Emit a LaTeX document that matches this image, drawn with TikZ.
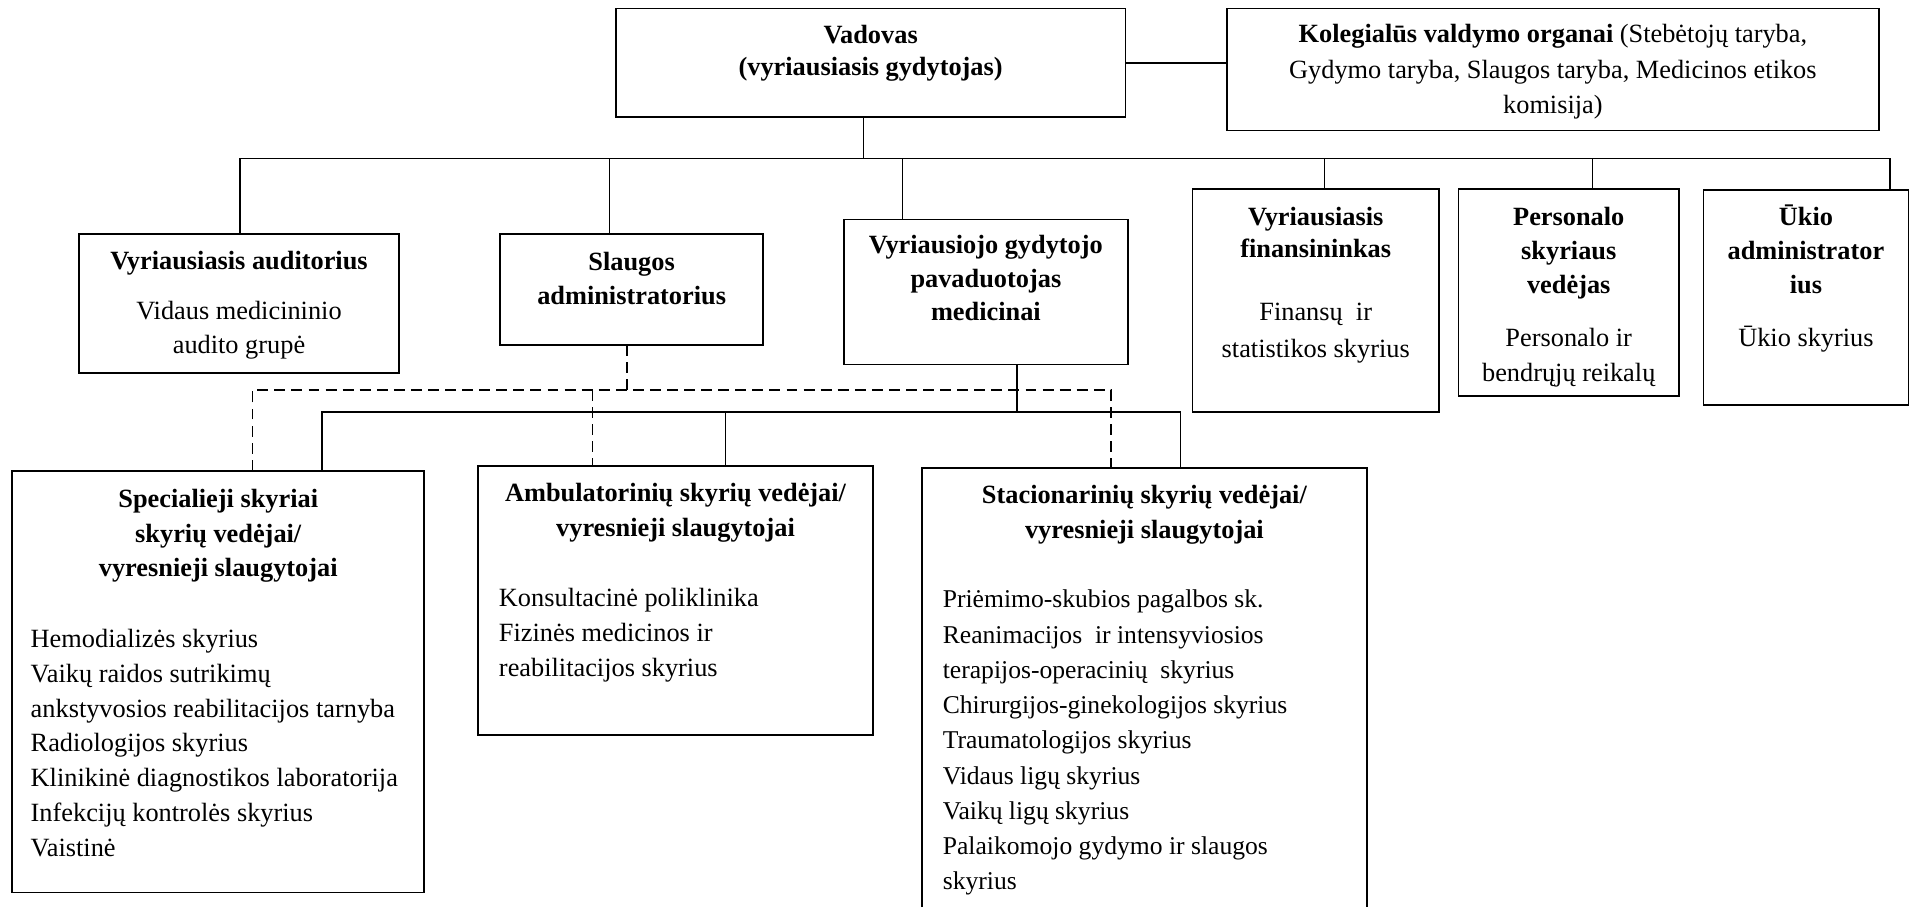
\documentclass[tikz,border=0pt]{standalone}
\usepackage{fontspec}
\setmainfont{Liberation Serif}
\usetikzlibrary{calc}
\newcommand{\fsz}{21.6pt}
\newcommand{\cbl}[3][28]{\begin{minipage}[t]{#2}\centering\fontsize{\fsz}{#1pt}\selectfont #3\end{minipage}}
\newcommand{\lbl}[3][28]{\begin{minipage}[t]{#2}\raggedright\fontsize{\fsz}{#1pt}\selectfont #3\end{minipage}}
\begin{document}
\begin{tikzpicture}[x=1pt,y=-1pt,
  box/.style={draw, line width=1.4pt, anchor=north west, inner sep=0pt, outer sep=0pt},
  openbox/.style={anchor=north west, inner sep=0pt, outer sep=0pt},
  ln/.style={line width=1.2pt},
  dl/.style={line width=1.2pt, dash pattern=on 9pt off 5pt},
  txt/.style={inner sep=0pt, anchor=base},
  txl/.style={inner sep=0pt, anchor=base west}]
\useasboundingbox (0,0) rectangle (1568,744);

% boxes
\node[box, minimum width=418pt, minimum height=89pt] (vad) at (505,7) {};
\node[box, minimum width=535pt, minimum height=100pt] (kol) at (1006,7) {};
\node[box, minimum width=262pt, minimum height=114pt] (aud) at (65,192) {};
\node[box, minimum width=216pt, minimum height=91pt] (sla) at (410,192) {};
\node[box, minimum width=233pt, minimum height=119pt] (vgp) at (692,180) {};
\node[box, minimum width=202pt, minimum height=183pt] (fin) at (978,155) {};
\node[box, minimum width=181pt, minimum height=170pt] (per) at (1196,155) {};
\node[box, minimum width=168pt, minimum height=176pt] (uk) at (1397,156) {};
\node[box, minimum width=338pt, minimum height=346pt] (spec) at (10,386) {};
\node[box, minimum width=324pt, minimum height=221pt] (amb) at (392,382) {};
\node[openbox, minimum width=365pt, minimum height=360pt] (sta) at (756,384) {};
\draw[line width=1.4pt] (sta.south west) -- (sta.north west) -- (sta.north east) -- (sta.south east);

% texts
\node[txt] (vadt) at (714,36) {\cbl[26]{400pt}{\bfseries Vadovas\\(vyriausiasis gydytojas)}};
\node[txt] (kolt) at (1273.5,35) {\cbl[29]{530pt}{\textbf{Kolegialūs valdymo organai} (Stebėtojų taryba,\\Gydymo taryba, Slaugos taryba, Medicinos etikos\\komisija)}};

\node[txt] (audh) at (196,221) {\cbl{258pt}{\bfseries Vyriausiasis auditorius}};
\node[txt] (audb) at (196,262) {\cbl{258pt}{Vidaus medicininio\\audito grupė}};

\node[txt] (slah) at (518,222) {\cbl{212pt}{\bfseries Slaugos\\administratorius}};

\node[txt] (vgph) at (808.5,208) {\cbl[27.5]{230pt}{\bfseries Vyriausiojo gydytojo\\pavaduotojas\\medicinai}};

\node[txt] (finh) at (1079,185) {\cbl[26]{198pt}{\bfseries Vyriausiasis\\finansininkas}};
\node[txt] (finb) at (1079,263) {\cbl[30]{198pt}{Finansų\ \ ir\\statistikos skyrius}};

\node[txt] (perh) at (1286.5,185) {\cbl[28]{178pt}{\bfseries Personalo\\skyriaus\\vedėjas}};
\node[txt] (perb) at (1286.5,284) {\cbl[29]{178pt}{Personalo ir\\bendrųjų reikalų}};

\node[txt] (ukh) at (1481,185) {\cbl[28]{165pt}{\bfseries Ūkio\\administrator\\ius}};
\node[txt] (ukb) at (1481,284) {\cbl{165pt}{Ūkio skyrius}};

\node[txt] (spech) at (179,416) {\cbl[28.5]{334pt}{\bfseries Specialieji skyriai\\skyrių vedėjai/\\vyresnieji slaugytojai}};
\node[txl] (specb) at (25,531) {\lbl[28.5]{322pt}{Hemodializės skyrius\\Vaikų raidos sutrikimų\\ankstyvosios reabilitacijos tarnyba\\Radiologijos skyrius\\Klinikinė diagnostikos laboratorija\\Infekcijų kontrolės skyrius\\Vaistinė}};

\node[txt] (ambh) at (554,411.5) {\cbl[28.5]{320pt}{\bfseries Ambulatorinių skyrių vedėjai/\\vyresnieji slaugytojai}};
\node[txl] (ambb) at (409,497.5) {\lbl[28.5]{300pt}{Konsultacinė poliklinika\\Fizinės medicinos ir\\reabilitacijos skyrius}};

\node[txt] (stah) at (938.5,413) {\cbl[28.5]{360pt}{\bfseries Stacionarinių skyrių vedėjai/\\vyresnieji slaugytojai}};
\node[txl] (stab) at (773,498.6) {\renewcommand{\fsz}{21pt}\lbl[28.9]{345pt}{Priėmimo-skubios pagalbos sk.\\Reanimacijos\ \ ir intensyviosios\\terapijos-operacinių\ \ skyrius\\Chirurgijos-ginekologijos skyrius\\Traumatologijos skyrius\\Vidaus ligų skyrius\\Vaikų ligų skyrius\\Palaikomojo gydymo ir slaugos\\skyrius}};

% connectors top
\draw[ln] (vad.east) -- (kol.west |- vad.east);
\coordinate (bus) at (708,130);
\coordinate (xa) at (197,130);
\coordinate (xs) at (500,130);
\coordinate (xv) at (740,130);
\coordinate (xf) at (1086,130);
\coordinate (xp) at (1306,130);
\coordinate (xu) at (1550,130);
\draw[ln] (vad.south -| bus) -- (bus);
\draw[ln] (xa |- aud.north) -- (xa) -- (xu) -- (xu |- uk.north);
\draw[ln] (xs) -- (xs |- sla.north);
\draw[ln] (xv) -- (xv |- vgp.north);
\draw[ln] (xf) -- (xf |- fin.north);
\draw[ln] (xp) -- (xp |- per.north);

% dashed from Slaugos administratorius
\coordinate (d0) at (514,320);
\coordinate (dL) at (207,320);
\coordinate (dM) at (486,320);
\coordinate (dR) at (911,320);
\draw[dl] (d0 |- sla.south) -- (d0);
\draw[dl] (dL |- spec.north) -- (dL) -- (dR) -- (dR |- sta.north);
\draw[dl] (dM) -- (dM |- amb.north);

% solid from pavaduotojas
\coordinate (s0) at (834,338);
\coordinate (sL) at (264,338);
\coordinate (sM) at (595,338);
\coordinate (sR) at (968,338);
\draw[ln] (s0 |- vgp.south) -- (s0);
\draw[ln] (sL |- spec.north) -- (sL) -- (sR) -- (sR |- sta.north);
\draw[ln] (sM) -- (sM |- amb.north);
\end{tikzpicture}
\end{document}
